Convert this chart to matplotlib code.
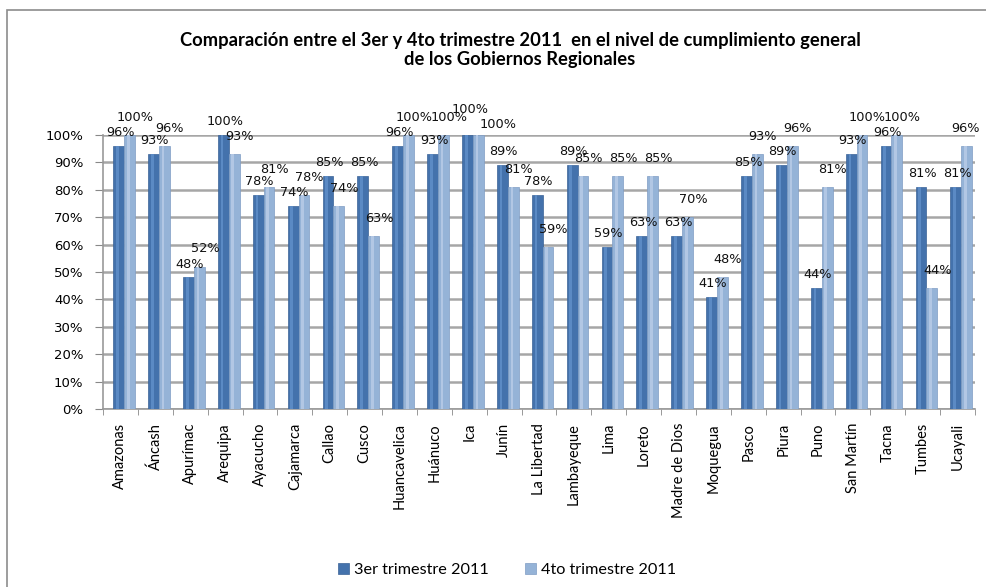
import matplotlib
matplotlib.use("Agg")
import matplotlib.pyplot as plt
import numpy as np
from matplotlib.patches import Rectangle

categories = ["Amazonas", "Áncash", "Apurímac", "Arequipa", "Ayacucho", "Cajamarca",
              "Callao", "Cusco", "Huancavelica", "Huánuco", "Ica", "Junín",
              "La Libertad", "Lambayeque", "Lima", "Loreto", "Madre de Dios",
              "Moquegua", "Pasco", "Piura", "Puno", "San Martín", "Tacna",
              "Tumbes", "Ucayali"]
q3 = [96, 93, 48, 100, 78, 74, 85, 85, 96, 93, 100, 89, 78, 89, 59, 63, 63, 41,
      85, 89, 44, 93, 96, 81, 81]
q4 = [100, 96, 52, 93, 81, 78, 74, 63, 100, 100, 100, 81, 59, 85, 85, 85, 70, 48,
      93, 96, 81, 100, 100, 44, 96]
series_names = ["3er trimestre 2011", "4to trimestre 2011"]
yticks = [0, 10, 20, 30, 40, 50, 60, 70, 80, 90, 100]
title = ("Comparación entre el 3er y 4to trimestre 2011  en el nivel de cumplimiento general\n"
         "de los Gobiernos Regionales")

dark = "#4472AC"
light = "#95B3D7"
cal = "Lato"

fig = plt.figure(figsize=(9.87, 5.87), dpi=100)
ax = fig.add_axes([103/987, 1-409/587, (975-103)/987, (409-135)/587])

x = np.arange(len(categories))
w = 0.31
off1, off2 = -0.05, -0.05 + w
b1 = ax.bar(x + off1, q3, width=w, color=dark, edgecolor="#3A6296", linewidth=0.5, zorder=3,
            label=series_names[0])
b2 = ax.bar(x + off2, q4, width=w, color=light, edgecolor="#7F9DC4", linewidth=0.5, zorder=3,
            label=series_names[1])
# subtle highlight stripe for a glossy look
ax.bar(x + off1 - w*0.12, q3, width=w*0.25, color="#5B8AC4", linewidth=0, zorder=3.5)
ax.bar(x + off2 - w*0.12, q4, width=w*0.25, color="#B2C7E4", linewidth=0, zorder=3.5)

# label nudges (in points) where the original placement avoided collisions
nudge3 = {"Ica": (1, 9)}
nudge4 = {"Ica": (10, -5), "Ucayali": (-5, 0)}
for xi, name, v in zip(x, categories, q3):
    dx, dy = nudge3.get(name, (0, 0))
    ax.annotate(f"{v}%", (xi + off1, v), xytext=(1 + dx, 5 + dy), textcoords="offset points",
                ha="center", va="bottom", fontsize=9.3, color="#111111", zorder=5)
for xi, name, v in zip(x, categories, q4):
    dx, dy = nudge4.get(name, (0, 0))
    ax.annotate(f"{v}%", (xi + off2, v), xytext=(4 + dx, 8 + dy), textcoords="offset points",
                ha="center", va="bottom", fontsize=9.3, color="#111111", zorder=5)

ax.set_xlim(-0.5, len(categories) - 0.5)
ax.set_ylim(0, 100)
ax.set_yticks(yticks)
ax.set_yticklabels([f"{t}%" for t in yticks], fontsize=9.5)
ax.yaxis.grid(True, color="#A6A6A6", linewidth=1.8, zorder=0)
ax.set_axisbelow(True)

ax.set_xticks(x)
ax.set_xticklabels(categories, rotation=90, fontsize=10.5, family=cal)
ax.set_xticks(np.arange(-0.5, len(categories), 1), minor=True)
ax.tick_params(axis="x", which="major", length=0, pad=10)
ax.tick_params(axis="x", which="minor", length=4, color="#888888")
ax.tick_params(axis="y", length=6, color="#888888", pad=8)

for s in ["top", "right"]:
    ax.spines[s].set_visible(False)
for s in ["left", "bottom"]:
    ax.spines[s].set_color("#999999")
    ax.spines[s].set_linewidth(1.2)

fig.text(520/987, 1-50/587, title, ha="center", va="center", fontsize=13.2,
         fontweight="bold", family=cal, linespacing=1.2)

fig.legend(handles=[b1, b2], labels=series_names, loc="center",
           bbox_to_anchor=(507/987, 1-570/587), ncol=2, frameon=False,
           prop={"family": cal, "size": 11.7}, handlelength=0.7, handleheight=0.7,
           columnspacing=2.2, handletextpad=0.3)

fig.add_artist(Rectangle((7/987, -0.05), 1.1, 1 - 10/587 + 0.05, transform=fig.transFigure,
                         fill=False, edgecolor="#8C8C8C", linewidth=1.2))

fig.savefig("out.png", dpi=100)
